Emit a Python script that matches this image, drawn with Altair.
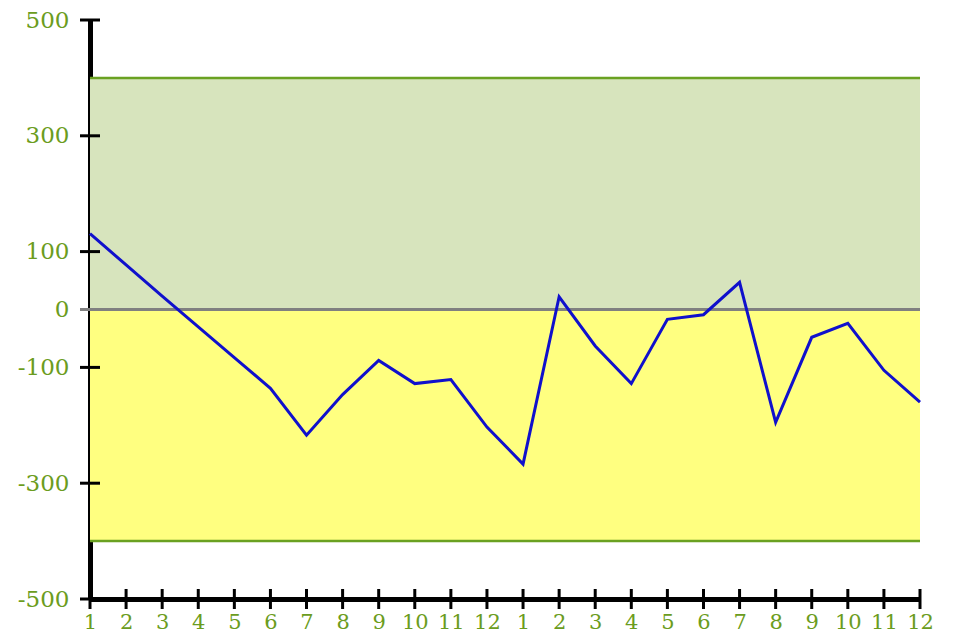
import altair as alt
import pandas as pd

months = [1, 2, 3, 4, 5, 6, 7, 8, 9, 10, 11, 12, 1, 2, 3, 4, 5, 6, 7, 8, 9, 10, 11, 12]
values = [131, 77, 23, -30, -83, -136, -217, -147, -88, -128, -121, -203,
          -267, 22, -63, -128, -17, -9, 47, -195, -48, -24, -105, -160]
y_ticks = [-500, -300, -100, 0, 100, 300, 500]
band_low = [0, -400]
band_high = [400, 0]
band_colors = ["#d7e4bd", "#ffff80"]
limit_lines = [400, -400]

n = len(values)
df = pd.DataFrame({"idx": list(range(n)), "value": values, "month": months})
bands = pd.DataFrame({"y": band_low, "y2": band_high, "c": band_colors,
                      "x": [0] * 2, "x2": [n - 1] * 2})
limits = pd.DataFrame({"y": limit_lines})
yt = pd.DataFrame({"v": y_ticks, "x": [0] * len(y_ticks)})
xt = pd.DataFrame({"idx": list(range(n)), "y": [-500] * n})

green = "#6b9c20"
font = "DejaVu Serif"

xscale = alt.Scale(domain=[0, n - 1], nice=False, zero=False)
yscale = alt.Scale(domain=[-500, 500], nice=False)

xaxis = alt.Axis(values=list(range(n)), labelExpr="(datum.value % 12) + 1", title=None,
                 ticks=False, grid=False, domain=True, domainColor="black",
                 domainWidth=5, labelColor=green, labelFont=font,
                 labelFontSize=21, labelPadding=12, labelFlush=False,
                 labelOverlap=False)
yaxis = alt.Axis(values=y_ticks, labelExpr="'' + datum.value", title=None,
                 ticks=False, grid=False,
                 domain=True, domainColor="black", domainWidth=5,
                 labelColor=green, labelFont=font, labelFontSize=23,
                 labelPadding=21, labelFlush=False, labelOverlap=False)

band_layer = alt.Chart(bands).mark_rect().encode(
    x=alt.X("x:Q", scale=xscale, axis=xaxis),
    x2="x2:Q",
    y=alt.Y("y:Q", scale=yscale, axis=yaxis),
    y2="y2:Q",
    color=alt.Color("c:N", scale=None),
)

limit_layer = alt.Chart(limits).mark_rule(color="#6aa121", strokeWidth=2.5).encode(
    y=alt.Y("y:Q", scale=yscale, axis=yaxis)
)

zero_layer = alt.Chart(pd.DataFrame({"y": [0]})).mark_rule(color="#808080", strokeWidth=3).encode(
    y=alt.Y("y:Q", scale=yscale, axis=yaxis)
)

line_layer = alt.Chart(df).mark_line(color="#1010cc", strokeWidth=3).encode(
    x=alt.X("idx:Q", scale=xscale, axis=xaxis),
    y=alt.Y("value:Q", scale=yscale, axis=yaxis),
)

ytick_layer = alt.Chart(yt).mark_tick(orient="horizontal", size=20, thickness=3, opacity=1).encode(
    x=alt.X("x:Q", scale=xscale, axis=xaxis),
    y=alt.Y("v:Q", scale=yscale, axis=yaxis),
    color=alt.condition("datum.v == 0", alt.value("#808080"), alt.value("black")),
)

xtick_layer = alt.Chart(xt).mark_tick(orient="vertical", size=20, thickness=3,
                                       color="black", opacity=1).encode(
    x=alt.X("idx:Q", scale=xscale, axis=xaxis),
    y=alt.Y("y:Q", scale=yscale, axis=yaxis),
)

chart = alt.layer(
    band_layer, limit_layer, zero_layer, line_layer, ytick_layer, xtick_layer
).properties(
    width=830, height=579,
    autosize=alt.AutoSizeParams(type="none"),
    padding={"left": 82, "top": 12, "right": 32, "bottom": 33},
).configure(background="white").configure_view(stroke=None)

chart.save("out.html", embed_options={"renderer": "svg", "actions": False})
